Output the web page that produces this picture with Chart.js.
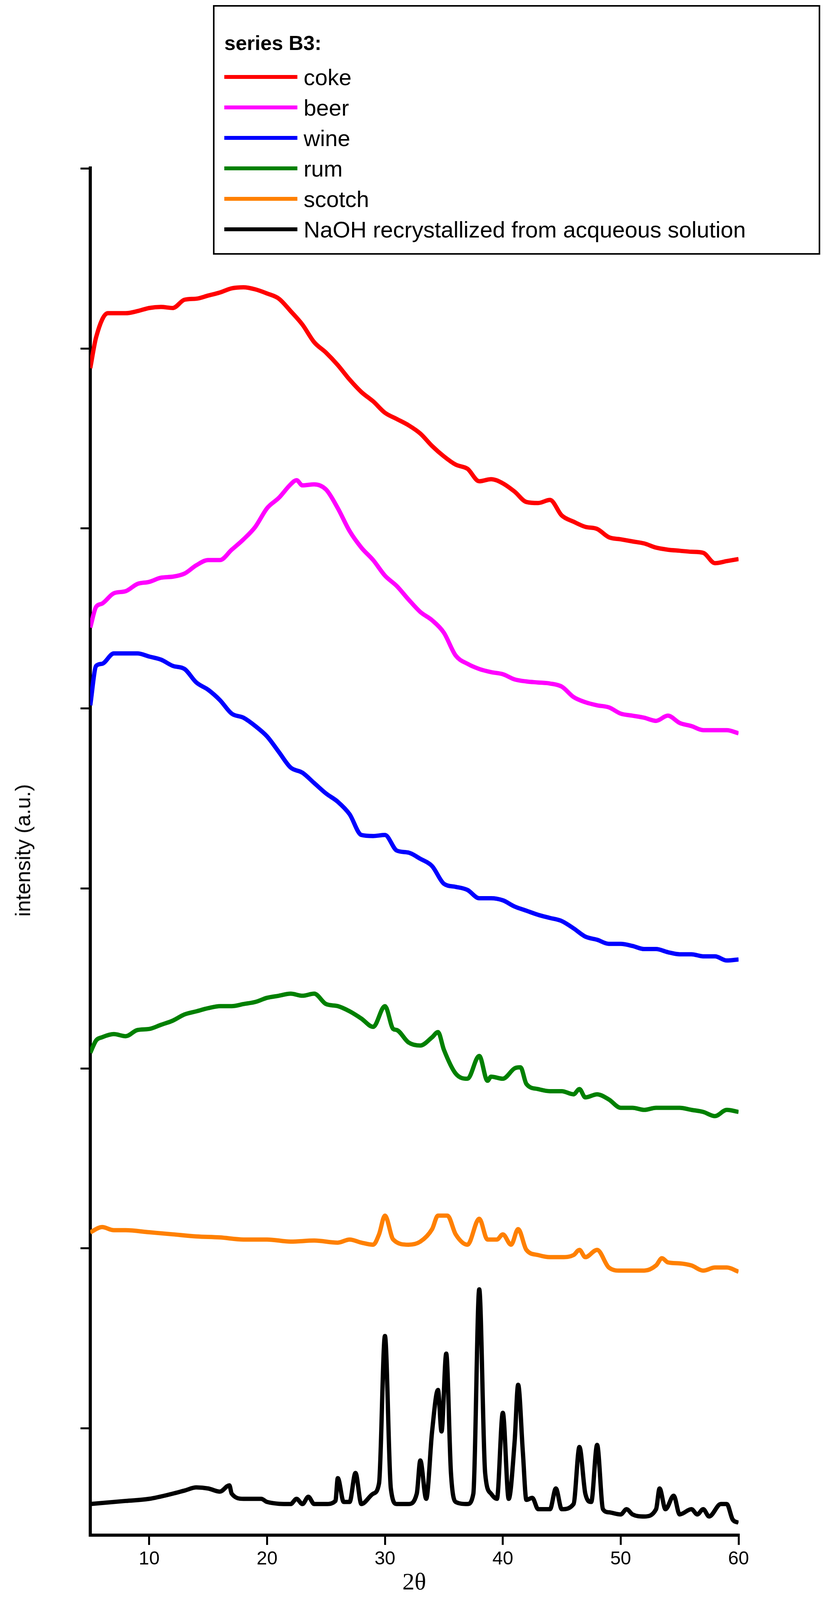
<!DOCTYPE html>
<html><head><meta charset="utf-8">
<script src="https://cdn.jsdelivr.net/npm/chart.js@4/dist/chart.umd.min.js"></script>
<style>
html,body{margin:0;padding:0;background:#fff;}
#wrap{position:relative;width:2124px;height:4100px;}
#legend{position:absolute;left:545px;top:13px;width:1546px;height:631px;border:4px solid #000;background:#fff;font-family:"Liberation Sans",Arial,sans-serif;z-index:2;}
.row{position:absolute;left:0;height:80px;display:flex;align-items:center;font-size:58px;}
.sw{width:187px;height:10px;margin-left:25px;margin-right:16px;}
#ytitle{position:absolute;left:58px;top:2177px;transform:translate(-50%,-50%) rotate(-90deg);font-family:"Liberation Sans",Arial,sans-serif;font-size:54px;white-space:nowrap;}
#xtitle{position:absolute;left:1060px;top:4048px;transform:translate(-50%,-50%);font-family:"Liberation Serif","Times New Roman",serif;font-size:62px;}
</style></head><body>
<div id="wrap"><canvas id="c" width="2124" height="4100"></canvas>
<div id="legend"></div>
<div id="ytitle">intensity (a.u.)</div>
<div id="xtitle">2θ</div>
</div>
<script>
const seriesNames=["coke","beer","wine","rum","scotch","NaOH recrystallized from acqueous solution"];
const seriesColors=["#ff0000","#ff00ff","#0000ff","#008000","#ff8000","#000000"];
const xTicks=[10,20,30,40,50,60];
const yTickVals=[103,276.5,450,623.5,797,970.5,1144,1317.5];

const cokeX=[5,5.5,6.5,8,9,10,11,12,13,14,15,16,17,18,19,20,21,22,23,24,25,26,27,28,29,30,31,32,33,34,35,36,37,38,39,40,41,42,43,44,45,46,47,48,49,50,51,52,53,54,55,56,57,58,59,60];
const cokeY=[1125,1155,1178,1178,1180,1183,1184,1183,1191,1192,1195,1198,1202,1203,1201,1197,1192,1180,1167,1150,1140,1128,1114,1102,1093,1082,1076,1070,1062,1050,1040,1032,1028,1016,1018,1014,1006,996,995,998,983,977,972,970,962,960,958,956,952,950,949,948,947,937,939,941];
const beerX=[5,5.5,6,7,8,9,10,11,12,13,14,15,16,17,18,19,20,21,22,22.5,23,24,25,26,27,28,29,30,31,32,33,34,35,36,37,38,39,40,41,42,43,44,45,46,47,48,49,50,51,52,53,54,55,56,57,58,59,60];
const beerY=[875,895,898,908,910,917,919,923,924,927,935,940,940,950,960,972,990,1000,1013,1017,1012,1013,1008,990,968,952,940,925,915,902,890,882,870,848,840,835,832,830,825,823,822,821,818,808,803,800,798,792,790,788,785,790,783,780,776,776,776,773];
const wineX=[5,5.5,6,7,8,9,10,11,12,13,14,15,16,17,18,19,20,21,22,23,24,25,26,27,28,29,30,31,32,33,34,35,36,37,38,39,40,41,42,43,44,45,46,47,48,49,50,51,52,53,54,55,56,57,58,59,60];
const wineY=[800,838,840,850,850,850,847,844,838,835,822,815,805,792,788,780,770,755,740,735,725,715,707,695,675,674,675,660,658,652,645,628,625,622,614,614,612,606,602,598,595,592,585,577,574,570,570,568,565,565,562,560,560,558,558,554,555];
const rumX=[5,5.5,6,7,8,9,10,11,12,13,14,15,16,17,18,19,20,21,22,23,24,25,26,27,28,29,30,30.7,31,32,33,34,34.5,35,36,37,38,38.7,39,40,41,41.5,42,43,44,45,46,46.5,47,48,49,50,51,52,53,54,55,56,57,58,59,60];
const rumY=[465,477,480,483,481,487,488,492,496,502,505,508,510,510,512,514,518,520,522,520,522,512,510,505,498,490,510,488,487,475,472,480,485,468,445,440,462,438,442,440,450,451,435,430,428,428,425,430,422,425,420,412,412,410,412,412,412,410,408,404,410,408];
const scotchX=[5,6,7,8,10,12,14,16,18,20,22,24,26,27,28,29,29.5,30,30.7,32,33,34,34.5,35.3,36,37,38,38.7,39.5,40,40.7,41.3,42,43,44,45,46,46.5,47,48,49,50,51,52,53,53.5,54,55,56,57,58,59,60];
const scotchY=[292,297,294,294,292,290,288,287,285,285,283,284,282,285,282,280,290,308,285,280,283,295,308,308,290,280,305,285,285,290,280,295,275,270,268,268,270,275,268,275,258,255,255,255,260,267,263,262,260,255,258,258,254];
const naohX=[5,8,10,12,13,14,15,16,16.8,17,18,19.5,20,22,22.5,23,23.5,24,25,25.8,26,26.5,27,27.5,28,29,29.5,30,30.5,31,32,32.7,33,33.5,34,34.5,34.8,35.2,35.6,36,37,37.5,38,38.5,39,39.5,40,40.5,41,41.3,41.7,42,42.5,43,44,44.5,45,46,46.5,47,47.5,48,48.5,49,50,50.5,51,52,53,53.3,53.8,54.5,55,56,56.5,57,57.5,58.5,59,59.5,60];
const naohY=[30,33,35,40,43,46,45,42,48,40,35,35,32,30,35,30,37,30,30,33,55,32,32,60,30,40,50,192,45,30,30,40,72,35,100,140,100,175,60,32,30,40,237,60,40,35,118,35,90,145,80,34,36,25,25,45,25,30,85,40,32,87,25,22,20,25,20,18,25,45,25,38,20,25,20,25,18,30,30,15,12];

const xs=[cokeX,beerX,wineX,rumX,scotchX,naohX], ys=[cokeY,beerY,wineY,rumY,scotchY,naohY];
const datasets=seriesNames.map((n,i)=>({label:n,data:xs[i].map((x,j)=>({x:x,y:ys[i][j]})),borderColor:seriesColors[i],borderWidth:11,pointRadius:0,cubicInterpolationMode:'monotone',fill:false}));

const lg=document.getElementById('legend');
lg.innerHTML='<div class="row" style="top:53px;font-weight:bold;left:25px;font-size:52px">series B3:</div>'+
seriesNames.map((n,i)=>`<div class="row" style="top:${140+i*78}px"><div class="sw" style="background:${seriesColors[i]}"></div>${n}</div>`).join('');

new Chart(document.getElementById('c'),{type:'line',data:{datasets},
options:{responsive:false,animation:false,
layout:{padding:{top:430,right:234,left:0,bottom:0}},
plugins:{legend:{display:false},tooltip:{enabled:false}},
scales:{
x:{type:'linear',min:5,max:60,
afterBuildTicks:a=>{a.ticks=xTicks.map(v=>({value:v}));},
afterFit:a=>{a.height=170;},
border:{color:'#000',width:8},
grid:{drawOnChartArea:false,color:'#000',lineWidth:5,tickLength:25},
ticks:{color:'#000',font:{family:'Liberation Sans',size:48},padding:8}},
y:{type:'linear',min:0,max:1318,
afterBuildTicks:a=>{a.ticks=yTickVals.map(v=>({value:v}));},
afterFit:a=>{a.width=231;},
border:{color:'#000',width:8},
grid:{drawOnChartArea:false,color:'#000',lineWidth:5,tickLength:25},
ticks:{display:false}}
}}});
</script></body></html>
